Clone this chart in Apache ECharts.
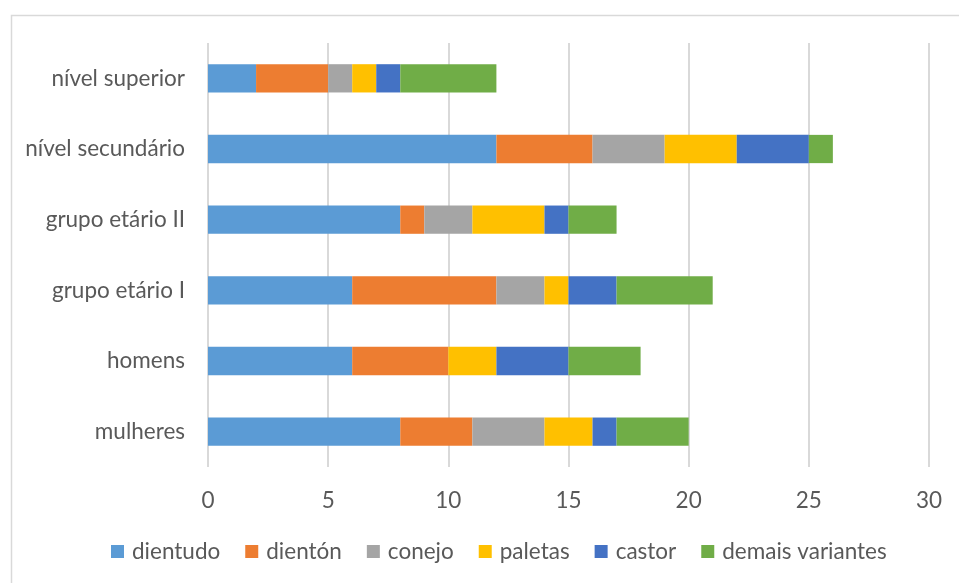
<!DOCTYPE html>
<html><head><meta charset="utf-8">
<script src="https://cdn.jsdelivr.net/npm/echarts@6/dist/echarts.min.js"></script>
<style>html,body{margin:0;padding:0;background:#fff}#c{width:959px;height:583px}</style>
</head><body><div id="c"></div>
<script>
const categories = ['mulheres', 'homens', 'grupo etário I', 'grupo etário II', 'nível secundário', 'nível superior'];
const dientudo = [8, 6, 6, 8, 12, 2];
const dienton = [3, 4, 6, 1, 4, 3];
const conejo = [3, 0, 2, 2, 3, 1];
const paletas = [2, 2, 1, 3, 3, 1];
const castor = [1, 3, 2, 1, 3, 1];
const demais = [3, 3, 4, 2, 1, 4];
const seriesNames = ['dientudo', 'dientón', 'conejo', 'paletas', 'castor', 'demais variantes'];
const seriesData = [dientudo, dienton, conejo, paletas, castor, demais];
const colors = ['#5b9bd5', '#ed7d31', '#a5a5a5', '#ffc000', '#4472c4', '#70ad47'];
const xTicks = [0, 5, 10, 15, 20, 25, 30];

const FONT = 'Lato';
const FS = 22.5;
const chart = echarts.init(document.getElementById('c'), null, {renderer: 'canvas'});
chart.setOption({
  animation: false,
  backgroundColor: '#fff',
  color: colors,
  textStyle: {fontFamily: FONT},
  graphic: [{
    type: 'rect', left: 9, top: 13, shape: {x: 0, y: 0, width: 1000, height: 1000},
    style: {fill: 'none', stroke: '#d9d9d9', lineWidth: 1.5}, silent: true, z: -1
  }],
  grid: {left: 208, right: 30, top: 43, bottom: 116, containLabel: false},
  legend: {
    bottom: 15, left: 106,
    itemWidth: 13, itemHeight: 13, itemGap: 25,
    icon: 'rect',
    textStyle: {fontFamily: FONT, fontSize: FS, color: '#595959', padding: [0, 0, 0, 3]},
    data: seriesNames
  },
  xAxis: {
    type: 'value', min: xTicks[0], max: xTicks[xTicks.length - 1], interval: 5,
    axisLine: {show: false}, axisTick: {show: false},
    axisLabel: {fontFamily: FONT, fontSize: FS, color: '#595959', margin: 22},
    splitLine: {lineStyle: {color: '#d9d9d9', width: 2}}
  },
  yAxis: {
    type: 'category', data: categories,
    axisLine: {show: false}, axisTick: {show: false},
    axisLabel: {fontFamily: FONT, fontSize: FS, color: '#595959', margin: 23}
  },
  series: seriesNames.map((n, i) => ({
    name: n, type: 'bar', stack: 'total', data: seriesData[i],
    barWidth: '40%'
  }))
});
</script></body></html>
